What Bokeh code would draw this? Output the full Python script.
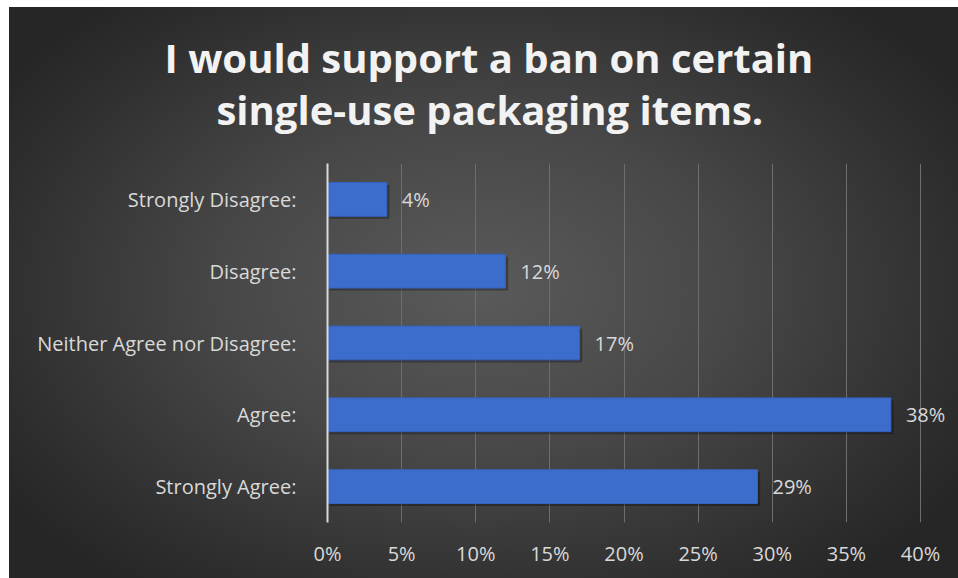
from bokeh.plotting import figure
from bokeh.models import FactorRange, FixedTicker, NumeralTickFormatter, Title, ColumnDataSource, LabelSet
from bokeh.core.properties import value
from bokeh.transform import dodge
from bokeh.embed import file_html
from bokeh.resources import INLINE

categories = ["Strongly Agree:", "Agree:", "Neither Agree nor Disagree:", "Disagree:", "Strongly Disagree:"]
values = [0.29, 0.38, 0.17, 0.12, 0.04]
value_labels = ["29%", "38%", "17%", "12%", "4%"]
x_ticks = [0, 0.05, 0.10, 0.15, 0.20, 0.25, 0.30, 0.35, 0.40]
title_lines = ["I would support a ban on certain", "single-use packaging items."]

FONT = "Open Sans"
TXT = "#d9d9d9"

bg = ("linear-gradient(#ffffff,#ffffff) left top / 100% 7px no-repeat, "
      "linear-gradient(#ffffff,#ffffff) left top / 9px 100% no-repeat, "
      "radial-gradient(ellipse 60% 65% at 50% 50%, #5a5a5a 0%, #474747 45%, #2e2e2e 85%, #262626 100%)")

p = figure(width=958, height=578, y_range=FactorRange(factors=categories),
           x_range=(0, 0.4256), output_backend="svg", toolbar_location=None,
           min_border_left=327, min_border_right=0, min_border_top=163, min_border_bottom=56,
           styles={"background": bg})
p.border_fill_color = None
p.background_fill_color = None
p.outline_line_color = None

src = ColumnDataSource(dict(cat=categories, val=values, lab=value_labels))
# soft drop shadow under each bar
p.hbar(y=dodge("cat", -0.035, range=p.y_range), right=dodge("val", 0.0018), left=0.0015,
       height=0.47, source=src, fill_color="#000000", fill_alpha=0.3, line_color=None)
p.hbar(y="cat", right="val", left=0, height=0.47, source=src,
       fill_color="#3d6dcc", line_color="#3563c0", line_width=1)

labels = LabelSet(x="val", y="cat", text="lab", source=src, x_offset=15,
                  text_baseline="middle", text_color=TXT, text_font_size="20px",
                  text_font=value(FONT))
p.add_layout(labels)

p.xaxis.ticker = FixedTicker(ticks=x_ticks)
p.xaxis.formatter = NumeralTickFormatter(format="0%")
p.xaxis.axis_line_color = None
p.xaxis.major_tick_line_color = None
p.xaxis.minor_tick_line_color = None
p.xaxis.major_label_text_color = TXT
p.xaxis.major_label_text_font = FONT
p.xaxis.major_label_text_font_size = "20px"
p.xaxis.major_label_standoff = 11

p.yaxis.axis_line_color = "#d9d9d9"
p.yaxis.axis_line_width = 2
p.yaxis.major_tick_line_color = None
p.yaxis.minor_tick_line_color = None
p.yaxis.major_label_text_color = TXT
p.yaxis.major_label_text_font = FONT
p.yaxis.major_label_text_font_size = "20px"
p.yaxis.major_label_standoff = 25

p.xgrid.grid_line_color = "#6e6e6e"
p.xgrid.grid_line_width = 1
p.ygrid.grid_line_color = None

# two-line title; the second line is indented with no-break spaces so both look centred
title_text = title_lines[0] + "\n" + "\u00a0" * 5 + title_lines[1]
p.add_layout(Title(text=title_text, align="left", text_font=FONT, text_font_size="40px",
                   text_font_style="bold", text_color="#f2f2f2", standoff=53,
                   offset=-163, text_line_height=0.94), "above")

open("out.html", "w").write(file_html(p, INLINE))
